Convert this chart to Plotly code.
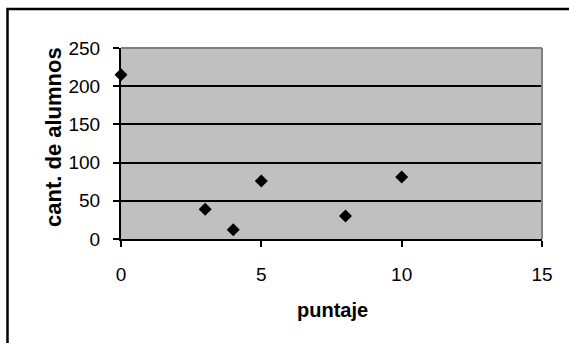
import plotly.graph_objects as go

puntaje = [0, 3, 4, 5, 8, 10]
alumnos = [215, 39, 12, 76, 30, 81]
x_ticks = [0, 5, 10, 15]
y_ticks = [0, 50, 100, 150, 200, 250]
x_title = "puntaje"
y_title = "cant. de alumnos"

W, H = 569, 343
L, R, T, B = 121, 542, 48, 239
pw, ph = R - L, B - T

def px_x(p):
    return (p - L) / pw

def px_y(p):
    return (B - p) / ph

fig = go.Figure()
fig.add_trace(go.Scatter(
    x=puntaje, y=alumnos, mode="markers",
    marker=dict(symbol="diamond", size=10, color="black", line=dict(width=0)),
    cliponaxis=False, showlegend=False,
))

font = "Liberation Sans, Arial, sans-serif"
fig.update_layout(
    width=W, height=H,
    margin=dict(l=L, r=W - R, t=T, b=H - B, pad=0),
    paper_bgcolor="white", plot_bgcolor="#c0c0c0",
    font=dict(family=font, size=19, color="black"),
    xaxis=dict(range=[0, 15], tickvals=x_ticks, ticktext=[str(v) for v in x_ticks],
               showgrid=False, zeroline=False, showline=True, linecolor="black", linewidth=2,
               ticks="outside", ticklen=6, tickwidth=1.5, tickcolor="black",
               ticklabelstandoff=11, tickfont=dict(size=19, family=font)),
    yaxis=dict(range=[0, 250], tickvals=y_ticks, ticktext=[str(v) for v in y_ticks],
               showgrid=True, gridcolor="black", gridwidth=1.6, zeroline=False,
               showline=True, linecolor="black", linewidth=2,
               ticks="outside", ticklen=6, tickwidth=1.5, tickcolor="black",
               ticklabelstandoff=9, tickfont=dict(size=19, family=font)),
    shapes=[
        # gray plot-area border (top, right)
        dict(type="line", xref="paper", yref="paper", x0=0, x1=1, y0=1, y1=1,
             line=dict(color="#808080", width=2), layer="above"),
        dict(type="line", xref="paper", yref="paper", x0=1, x1=1, y0=0, y1=1,
             line=dict(color="#808080", width=2), layer="above"),
        # outer chart frame (cropped at right/bottom)
        dict(type="rect", xref="paper", yref="paper",
             x0=px_x(7.5), x1=px_x(W + 20), y0=px_y(H + 20), y1=px_y(9),
             line=dict(color="black", width=2.5), fillcolor="rgba(0,0,0,0)", layer="below"),
    ],
    annotations=[
        dict(text="<b>%s</b>" % x_title, xref="paper", yref="paper",
             x=px_x(332), y=px_y(310), xanchor="center", yanchor="middle",
             showarrow=False, font=dict(size=20, family=font, color="black")),
        dict(text="<b>%s</b>" % y_title, xref="paper", yref="paper",
             x=px_x(53), y=px_y(137), xanchor="center", yanchor="middle", textangle=-90,
             showarrow=False, font=dict(size=22, family=font, color="black")),
    ],
)

fig.write_html("out.html")
